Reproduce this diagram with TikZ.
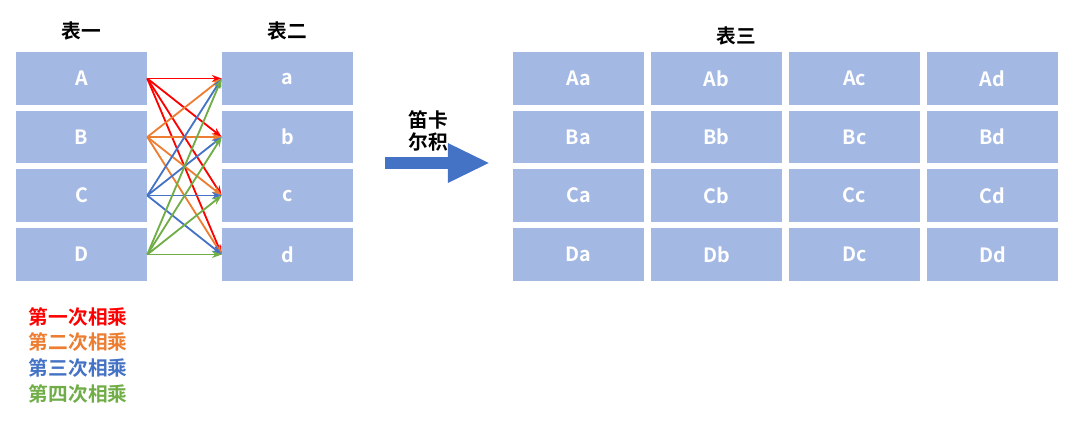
\documentclass[tikz,border=0pt]{standalone}
\usepackage{fontspec}
\setmainfont{Noto Sans CJK SC}[BoldFont={* Bold}]
\usepackage{tikz}
\usetikzlibrary{arrows.meta, positioning}
\definecolor{cellblue}{HTML}{A3B8E3}
\definecolor{mred}{HTML}{FF0000}
\definecolor{morange}{HTML}{ED7D31}
\definecolor{mblue}{HTML}{4472C4}
\definecolor{mgreen}{HTML}{70AD47}
\tikzset{
  cell/.style={fill=cellblue, minimum width=3.275cm, minimum height=1.32cm,
    inner sep=0pt, text=white, font=\fontsize{14}{16}\selectfont\bfseries},
  title/.style={font=\fontsize{14}{16}\selectfont\bfseries},
  mul/.style={-{Stealth[length=7pt,width=5pt]}, line width=1.3pt}
}
\begin{document}
\begin{tikzpicture}[x=0.025cm, y=-0.025cm]
        \useasboundingbox (0,0) rectangle (1084,424);

        % Table one and table two
        \foreach \r/\y/\u/\l in {1/78.5/A/a, 2/137/B/b, 3/195.5/C/c, 4/254.5/D/d} {
                \node[cell] (t1\r) at (81.5,\y) {\u};
                \node[cell] (t2\r) at (287.5,\y) {\l};
            }
        \node[title] (h1) at (81.5,31) {表一};
        \node[title] (h2) at (287.5,31) {表二};

        % Products
        \foreach \s/\c in {1/mred, 2/morange, 3/mblue, 4/mgreen} {
                \foreach \t in {1,2,3,4} {
                        \draw[mul, \c] (t1\s.east) -- (t2\t.west);
                    }
            }

        % Legend
        \node[title, text=mred, anchor=west] (g1) at (24,317) {第一次相乘};
        \node[title, text=morange, anchor=west] (g2) at (24,342) {第二次相乘};
        \node[title, text=mblue, anchor=west] (g3) at (24,368) {第三次相乘};
        \node[title, text=mgreen, anchor=west] (g4) at (24,394) {第四次相乘};

        % Arrow
        \coordinate (pa) at (385,163);
        \coordinate (pb) at (490,163);
        \draw[mblue, line width=8pt, -{Triangle[length=30pt,width=26pt]}] (pa) -- (pb);
        \node[title, align=center] (op) at (428,131) {笛卡\\尔积};

        % Table three
        \node[title] (h3) at (736,36) {表三};
        \foreach \r/\y/\u in {1/78.5/A, 2/137/B, 3/195.5/C, 4/254.5/D} {
                \foreach \c/\x/\l in {1/578.5/a, 2/716.5/b, 3/854.5/c, 4/992.5/d} {
                        \node[cell] (t3\r\c) at (\x,\y) {\u\l};
                    }
            }
    \end{tikzpicture}
\end{document}
